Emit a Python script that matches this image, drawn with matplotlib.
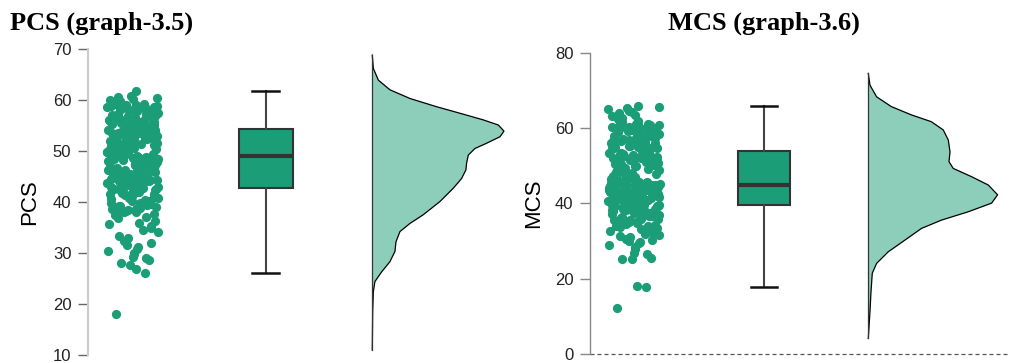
import numpy as np
import matplotlib

matplotlib.use('Agg')

from matplotlib import pyplot as plt

##### Scores #####
pcs = [18.0,
       26.0, 26.8, 27.7, 28.1, 28.6, 29.0, 29.3, 29.8,
       30.1, 30.4, 30.8, 31.2, 31.6, 32.0, 32.4, 32.9, 33.4,
       34.1, 34.6, 35.0, 35.3, 35.7, 35.9, 36.3, 36.8, 37.1, 37.4, 37.7, 37.9,
       38.0, 38.1, 38.3, 38.4, 38.6, 38.7, 38.9, 39.0, 39.2, 39.3, 39.5, 39.6, 39.8, 39.9,
       40.1, 40.2, 40.4, 40.5, 40.7, 40.8, 41.0, 41.1, 41.3, 41.4, 41.5, 41.6, 41.7, 41.8, 41.9, 42.0,
       42.1, 42.2, 42.4, 42.5, 42.6, 42.8, 42.9, 43.0, 43.1, 43.3, 43.4, 43.5, 43.7, 43.8, 43.9,
       44.0, 44.1, 44.2, 44.4, 44.5, 44.6, 44.7, 44.8, 44.9, 45.0, 45.1, 45.2, 45.3, 45.4, 45.5,
       45.6, 45.7, 45.8, 45.9, 45.9, 46.0, 45.3, 44.3, 43.6, 42.7,
       46.1, 46.2, 46.3, 46.5, 46.6, 46.7, 46.8, 46.9, 47.0, 47.1, 47.2, 47.4, 47.5, 47.6, 47.7,
       47.8, 47.9, 48.0, 48.1, 48.2, 48.3, 48.4, 48.5, 48.6, 48.7, 48.8, 48.9, 49.0, 49.1, 49.2,
       49.3, 49.4, 49.5, 49.6, 49.7, 49.8, 49.9, 47.3, 48.6, 49.4,
       50.0, 50.1, 50.2, 50.3, 50.4, 50.5, 50.6, 50.7, 50.8, 50.9, 51.0, 51.1, 51.2, 51.3, 51.4,
       51.5, 51.6, 51.7, 51.8, 51.9, 52.0, 52.1, 52.2, 52.3, 52.4, 52.5, 52.6, 52.7, 52.8, 52.9,
       53.0, 53.1, 53.2, 53.3, 53.4, 53.5, 53.6, 53.7, 53.8, 53.9, 53.5, 53.8, 53.2, 52.6, 51.4,
       50.7, 53.9, 52.3, 53.6, 54.0,
       54.1, 54.1, 54.2, 54.2, 54.3, 54.4, 54.5, 54.6, 54.7, 54.8, 54.9, 55.0, 55.1, 55.2, 55.3,
       55.4, 55.5, 55.6, 55.7, 55.8, 55.9, 56.0, 56.1, 56.3, 56.4, 56.5, 56.6, 56.8, 56.9, 57.0,
       57.1, 57.3, 57.4, 57.6, 57.8, 57.9, 55.2, 55.6, 54.5, 56.2, 57.2, 54.9, 55.5, 56.7, 57.5,
       58.0, 58.1, 58.2, 58.3, 58.4, 58.5, 58.6, 58.7, 58.8, 58.9, 59.0, 59.2, 59.3, 59.5, 59.6,
       59.8, 60.0, 60.2, 60.5, 60.7, 58.3, 58.6, 59.1, 60.4, 61.8]

mcs = [12.4, 17.9, 18.1,
       25.2, 25.4, 25.6, 26.5, 26.9, 27.8, 28.5, 29.0, 29.4, 29.8,
       30.1, 30.4, 30.7, 31.0, 31.3, 31.6, 31.9, 32.2, 32.5, 32.8, 33.1, 33.4, 33.7, 33.9,
       34.0, 34.2, 34.4, 34.6, 34.8, 35.0, 35.2, 35.4, 35.6, 35.8, 36.0, 36.2, 36.4, 36.6, 36.8,
       37.0, 37.2, 37.4, 37.6, 37.8, 37.9, 35.5, 36.9,
       38.0, 38.1, 38.2, 38.3, 38.4, 38.5, 38.6, 38.7, 38.8, 38.9, 39.0, 39.1, 39.2, 39.3, 39.4,
       39.5, 39.6, 39.7, 39.8, 39.9, 40.0, 40.2, 40.4, 40.6, 40.8, 41.0, 41.2, 41.4, 41.6, 41.8,
       40.1, 40.3, 40.5, 40.7, 40.9, 41.1, 41.3, 41.5, 41.7, 41.9,
       42.0, 42.1, 42.2, 42.3, 42.4, 42.5, 42.6, 42.7, 42.8, 42.9, 43.0, 43.1, 43.2, 43.3, 43.4,
       43.5, 43.6, 43.7, 43.8, 43.9, 44.0, 44.1, 44.2, 44.3, 44.4, 44.5, 44.6, 44.7, 44.8, 44.9,
       45.0, 45.1, 45.2, 45.3, 45.4, 45.5, 45.6, 45.7, 45.8, 45.9, 42.2, 42.5, 42.8, 43.1, 43.4,
       43.7, 44.0, 44.3, 44.6, 44.9, 45.2, 45.5, 45.8, 42.4, 43.6,
       46.0, 46.3, 46.6, 46.9, 47.2, 47.5, 47.8, 48.1, 48.4, 48.7, 49.0, 49.3, 49.6, 49.9, 46.5,
       47.0, 47.7, 48.3, 49.1, 49.5,
       50.0, 50.2, 50.4, 50.6, 50.8, 51.0, 51.2, 51.4, 51.6, 51.8, 52.0, 52.2, 52.4, 52.6, 52.8,
       53.0, 53.2, 53.4, 53.6, 53.8, 50.5, 51.1, 51.7, 52.3, 52.9, 53.5, 53.9, 52.1, 51.5, 50.9,
       54.1, 54.3, 54.6, 54.9, 55.2, 55.5, 55.8, 56.1, 56.4, 56.7, 57.0, 57.3, 57.6, 57.9, 54.5,
       55.0, 55.6, 56.0, 56.5, 57.1, 57.5, 55.3, 56.8, 54.8, 57.8,
       58.0, 58.2, 58.4, 58.6, 58.8, 59.0, 59.2, 59.4, 59.6, 59.8, 60.0, 60.2, 60.4, 60.6, 60.8,
       61.0, 61.2, 61.4, 61.6, 61.8, 58.5, 59.1, 59.7, 60.3, 60.9, 61.5, 58.9, 60.1,
       62.1, 62.4, 62.8, 63.1, 63.5, 63.9, 64.2, 64.6, 65.0, 65.3, 65.6, 65.9]

##### Density outlines (score, density relative to the peak) #####
pcs_dens_y = [68.8, 66.2, 63.9, 62.0, 60.3, 58.7, 57.4, 56.1, 55.1, 53.9, 52.8, 51.5, 50.5, 49.2, 47.6,
              46.3, 44.6, 42.7, 40.1, 37.5, 35.8, 34.2, 32.2, 30.3, 28.3, 26.3, 24.4, 22.4, 18.5, 11.0]
pcs_dens = [0.0, 0.008, 0.046, 0.134, 0.286, 0.486, 0.666, 0.843, 0.957, 1.0, 0.970, 0.866, 0.780, 0.729, 0.716,
            0.711, 0.678, 0.615, 0.514, 0.387, 0.286, 0.210, 0.180, 0.172, 0.134, 0.071, 0.020, 0.008, 0.003, 0.0]

mcs_dens_y = [74.5, 71.4, 68.3, 65.7, 63.5, 61.7, 59.5, 56.8, 53.7, 51.1, 49.3, 47.1, 44.9, 42.3, 40.1,
              37.8, 35.6, 33.4, 30.3, 27.2, 24.1, 21.5, 16.6, 11.3, 4.2]
mcs_dens = [0.0, 0.013, 0.064, 0.178, 0.333, 0.487, 0.580, 0.619, 0.632, 0.624, 0.657, 0.799, 0.928, 1.0, 0.954,
            0.773, 0.567, 0.412, 0.284, 0.155, 0.064, 0.031, 0.021, 0.013, 0.0]

GREEN = '#1b9e77'

plt.rcParams['font.family'] = ['Liberation Sans', 'DejaVu Sans']

fig = plt.figure(figsize=(10.09, 3.63), dpi=100)
ax1 = fig.add_axes([0.0872, 0.0220, 0.4331, 0.8430])
ax2 = fig.add_axes([0.5847, 0.0240, 0.4153, 0.8309])


def raincloud(ax, values, dens_y, dens, cloud_x, box_x, dens_x, dens_w, box_w):
	values = np.asarray(values)
	# sideways spread of the dots: fractional part of a sine hash, no RNG
	idx = np.arange(len(values))
	spread = (np.sin(idx * 12.9898 + 78.233) * 43758.5453) % 1.0 - 0.5
	ax.scatter(cloud_x + spread * 0.52, values, s=44, color=GREEN, linewidths=0, zorder=2)

	ax.boxplot(values, positions=[box_x], widths=box_w, patch_artist=True, showfliers=False,
	           boxprops=dict(facecolor=GREEN, edgecolor='#333333', linewidth=1.5),
	           medianprops=dict(color='#333333', linewidth=3),
	           whiskerprops=dict(color='#444444', linewidth=1.5),
	           capprops=dict(color='#111111', linewidth=1.8))

	dens_y = np.asarray(dens_y)
	dens = np.asarray(dens)
	ax.fill_betweenx(dens_y, dens_x, dens_x + dens * dens_w, facecolor=GREEN, alpha=0.5, linewidth=0)
	ax.plot(dens_x + dens * dens_w, dens_y, color='black', linewidth=0.9)
	ax.plot([dens_x, dens_x], [dens_y.min(), dens_y.max()], color='#333333', linewidth=0.9)


raincloud(ax1, pcs, pcs_dens_y, pcs_dens, 0.445, 1.78, 2.843, 1.317, 0.54)
raincloud(ax2, mcs, mcs_dens_y, mcs_dens, 0.44, 1.74, 2.783, 1.293, 0.52)

ax1.set_xlim(0, 4.37)
ax1.set_ylim(10, 70)
ax1.set_yticks([10, 20, 30, 40, 50, 60, 70])
ax2.set_xlim(0, 4.19)
ax2.set_ylim(0, 80)
ax2.set_yticks([0, 20, 40, 60, 80])
ax2.axhline(0, color='#555555', linestyle=(0, (3.2, 2.4)), linewidth=0.9, clip_on=False)

for ax, spine_col, tick_col, label in [(ax1, '#cccccc', '#666666', 'PCS'), (ax2, '#888888', '#888888', 'MCS')]:
	for side in ['top', 'right', 'bottom']:
		ax.spines[side].set_visible(False)
	ax.spines['left'].set_color(spine_col)
	ax.spines['left'].set_linewidth(1.5 if ax is ax1 else 1.0)
	ax.set_xticks([])
	ax.tick_params(axis='y', length=7, width=1, color=tick_col, labelsize=12, labelcolor='#222222', pad=5)
	ax.set_ylabel(label, fontsize=16)
	ax.yaxis.set_label_coords(-0.11, 0.5)
	ax.patch.set_visible(False)

fig.text(10 / 1009, 1 - 30 / 363, 'PCS (graph-3.5)', family='Liberation Serif', weight='bold',
         fontsize=19, va='baseline', ha='left')
fig.text(668 / 1009, 1 - 30 / 363, 'MCS (graph-3.6)', family='Liberation Serif', weight='bold',
         fontsize=19, va='baseline', ha='left')

plt.savefig('out.png', dpi=100)
